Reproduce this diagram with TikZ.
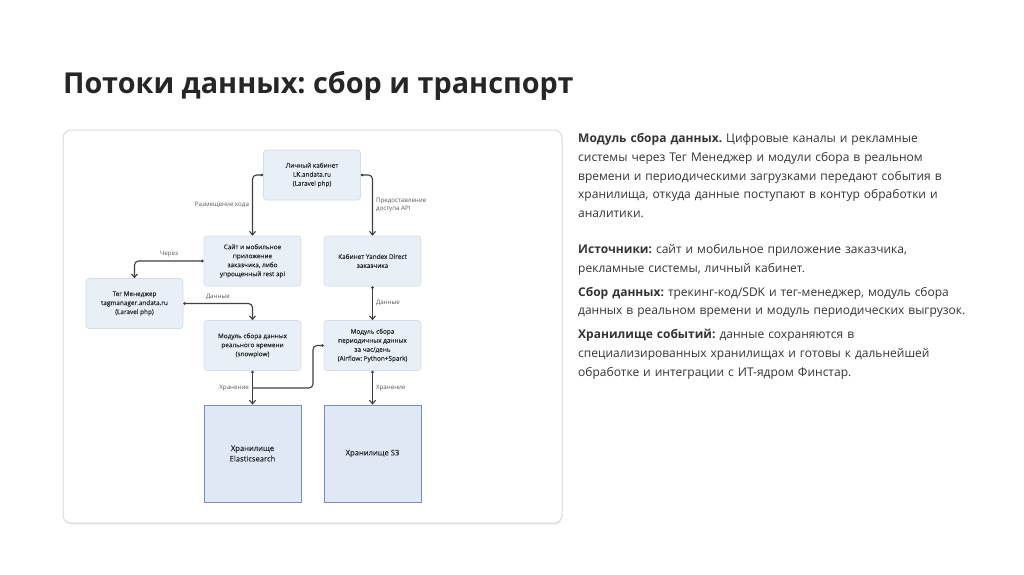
\documentclass[tikz,border=0pt]{standalone}
\usepackage{fontspec}
\setmainfont{Open Sans}
\newfontfamily\diagfont[FakeBold=0.3]{Open Sans}
\usetikzlibrary{arrows.meta, shadows}

\definecolor{boxfill}{HTML}{E9EFF6}
\definecolor{boxline}{HTML}{D3DCE8}
\definecolor{storefill}{HTML}{DFE8F4}
\definecolor{storeline}{HTML}{7190CA}
\definecolor{flowgray}{HTML}{3F3F3F}
\definecolor{lblgray}{HTML}{5A5A5A}
\definecolor{titlecol}{HTML}{262626}
\definecolor{bodycol}{HTML}{333333}

\begin{document}
\frenchspacing
\begin{tikzpicture}[
    x=1pt, y=-1pt,
    % styles des blocs
    module/.style = {rectangle, rounded corners=3pt, draw=boxline, fill=boxfill,
                     line width=0.6pt, minimum width=97pt, minimum height=50pt,
                     align=center, font=\diagfont\fontsize{6.4}{9}\selectfont, text=bodycol!80!black},
    store/.style  = {rectangle, draw=storeline, fill=storefill, line width=0.9pt,
                     minimum width=97pt, minimum height=97pt, align=center,
                     font=\diagfont\fontsize{7.6}{10.5}\selectfont, text=bodycol!80!black},
    flow/.style   = {{Circle[length=2.6pt]}-{Straight Barb[length=3.5pt, width=6pt]},
                     line width=1.1pt, draw=flowgray, rounded corners=4pt},
    flowjoin/.style = {{Circle[length=2.6pt]}-, line width=1.1pt, draw=flowgray,
                     rounded corners=4pt},
    lbl/.style    = {font=\fontsize{6.2}{8}\selectfont, text=lblgray, inner sep=3pt},
]
\useasboundingbox (0,0) rectangle (1024,574);

% ── Titre ───────────────────────────────────────────────────────────────────
\node[anchor=base west, inner sep=0pt, text=titlecol,
      font=\fontsize{28.8}{34}\selectfont\bfseries] (title) at (63,93)
    {Потоки данных: сбор и транспорт};

% ── Cadre du schéma ─────────────────────────────────────────────────────────
\draw[draw=gray!28, line width=1pt, rounded corners=8pt, fill=white,
      drop shadow={opacity=0.15, shadow xshift=0.5pt, shadow yshift=-1.5pt}]
    (63,130) rectangle (562,523);

% ── Sources ─────────────────────────────────────────────────────────────────
\node[module] (lk)     at (312,175)   {Личный кабинет\\LK.andata.ru\\(Laravel php)};
\node[module] (site)   at (252.5,261) {Сайт и мобильное\\приложение\\заказчика, либо\\упрощенный rest api};
\node[module] (yandex) at (372.5,261) {Кабинет Yandex Direct\\заказчика};
\node[module] (tag)    at (134.5,303.5) {Тег Менеджер\\tagmanager.andata.ru\\(Laravel php)};

% ── Modules de collecte ─────────────────────────────────────────────────────
\node[module] (rt)    at (252.5,345.5) {Модуль сбора данных\\реального времени\\(snowplow)};
\node[module] (batch) at (372.5,345.5) {Модуль сбора\\периодичных данных\\за час/день\\(Airflow: Python+Spark)};

% ── Stockage ────────────────────────────────────────────────────────────────
\node[store] (es) at (252.5,453.5) {Хранилище\\Elasticsearch};
\node[store] (s3) at (372.5,453.5) {Хранилище S3};

\coordinate (merge) at (252.5,388);
\coordinate (bend)  at (313,388);

% ── Flèches ─────────────────────────────────────────────────────────────────
\draw[flow] (lk.west) -| node[lbl, pos=0.75, left] {Размещение кода} (site.north);
\draw[flow] (lk.east) -| node[lbl, pos=0.75, right, align=left] {Предоставление\\доступа API} (yandex.north);
\draw[flow] (site.west) -| node[lbl, pos=0.25, above] {Через} (tag.north);
\draw[flow] (tag.east) -| node[lbl, pos=0.25, above] {Данные} (rt.north);
\draw[flow] (yandex.south) -- node[lbl, right] {Данные} (batch.north);
\draw[flow] (rt.south) -- node[lbl, left] {Хранение} (es.north);
\draw[flow] (batch.south) -- node[lbl, right] {Хранение} (s3.north);
\draw[flowjoin] (batch.west) -| (bend) -- (merge);

% ── Texte explicatif ────────────────────────────────────────────────────────
\node[anchor=north west, text width=420pt, align=left, inner sep=0pt,
      text=bodycol, font=\fontsize{12}{18.6}\selectfont] (notes) at (578,133.5)
    {\textbf{Модуль сбора данных.} Цифровые каналы и рекламные\\
     системы через Тег Менеджер и модули сбора в реальном\\
     времени и периодическими загрузками передают события в\\
     хранилища, откуда данные поступают в контур обработки и\\
     аналитики.\\[17.5pt]
     \textbf{Источники:} сайт и мобильное приложение заказчика,\\
     рекламные системы, личный кабинет.\\[5.5pt]
     \textbf{Сбор данных:} трекинг-код/SDK и тег-менеджер, модуль сбора\\
     данных в реальном времени и модуль периодических выгрузок.\\[5.5pt]
     \textbf{Хранилище событий:} данные сохраняются в\\
     специализированных хранилищах и готовы к дальнейшей\\
     обработке и интеграции с ИТ-ядром Финстар.};

\end{tikzpicture}
\end{document}
